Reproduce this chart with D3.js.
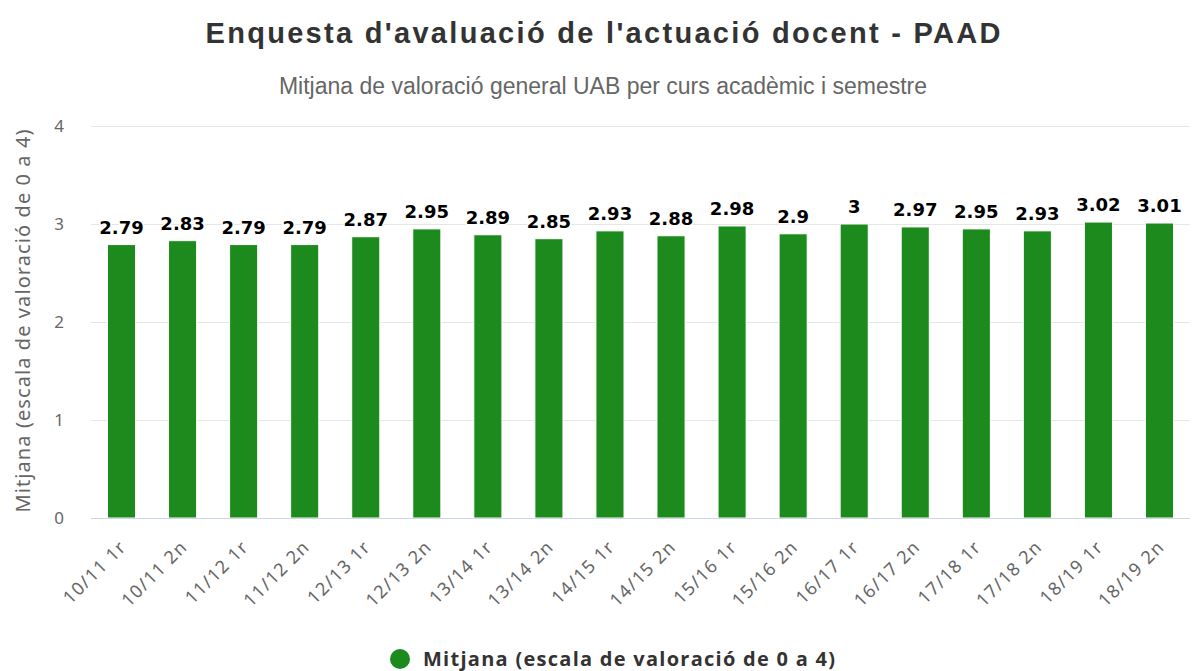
<!DOCTYPE html>
<html>
<head>
    <meta charset="utf-8">
    <title>Enquesta d'avaluació de l'actuació docent - PAAD</title>
    <script src="https://cdnjs.cloudflare.com/ajax/libs/d3/7.8.5/d3.min.js"></script>
    <style>
        body { margin: 0; background: #fff; }
        svg { display: block; }
    </style>
</head>
<body>
    <svg id="chart" width="1193" height="671"></svg>
    <script>
        // semestres i mitjanes
        var semestres = ["10/11 1r", "10/11 2n", "11/12 1r", "11/12 2n", "12/13 1r", "12/13 2n",
            "13/14 1r", "13/14 2n", "14/15 1r", "14/15 2n", "15/16 1r", "15/16 2n",
            "16/17 1r", "16/17 2n", "17/18 1r", "17/18 2n", "18/19 1r", "18/19 2n"];
        var mitjanes = [2.79, 2.83, 2.79, 2.79, 2.87, 2.95, 2.89, 2.85, 2.93, 2.88,
            2.98, 2.9, 3, 2.97, 2.95, 2.93, 3.02, 3.01];
        var yTicks = [0, 1, 2, 3, 4];
        var serieNom = "Mitjana (escala de valoració de 0 a 4)";

        var svg = d3.select("#chart");
        var plotLeft = 91, plotRight = 1190, plotTop = 126, plotBottom = 518;

        var x = d3.scaleBand().domain(semestres).range([plotLeft, plotRight]).paddingInner(0.54).paddingOuter(0.27);
        var y = d3.scaleLinear().domain([0, 4]).range([plotBottom, plotTop]);

        svg.append("text")
            .attr("x", 603).attr("y", 43)
            .attr("text-anchor", "middle")
            .attr("textLength", 795)
            .attr("lengthAdjust", "spacing")
            .style("font-family", "'Liberation Sans', sans-serif")
            .style("font-size", "29px")
            .style("font-weight", "bold")
            .style("fill", "#333")
            .text("Enquesta d'avaluació de l'actuació docent - PAAD");

        svg.append("text")
            .attr("x", 603).attr("y", 94)
            .attr("text-anchor", "middle")
            .style("font-family", "'Liberation Sans', sans-serif")
            .style("font-size", "23px")
            .style("fill", "#666")
            .text("Mitjana de valoració general UAB per curs acadèmic i semestre");

        // eix y amb graella
        var yAxis = svg.append("g")
            .attr("transform", "translate(" + plotLeft + ",0)")
            .call(d3.axisLeft(y).tickValues(yTicks).tickSize(-(plotRight - plotLeft)).tickPadding(27).tickFormat(d3.format("d")));
        yAxis.select(".domain").remove();
        yAxis.selectAll(".tick line").attr("stroke", "#e6e6e6");
        yAxis.selectAll(".tick text")
            .style("font-family", "'Noto Sans', sans-serif")
            .style("font-size", "17px")
            .style("fill", "#666");

        svg.append("text")
            .attr("transform", "translate(30," + ((plotTop + plotBottom) / 2 - 1) + ") rotate(-90)")
            .attr("text-anchor", "middle")
            .attr("textLength", 383)
            .attr("lengthAdjust", "spacing")
            .style("font-family", "'Noto Sans', sans-serif")
            .style("font-size", "20px")
            .style("fill", "#666")
            .text(serieNom);

        // barres
        svg.append("g").selectAll("rect")
            .data(mitjanes)
            .enter()
            .append("rect")
            .attr("x", function(d, i) { return x(semestres[i]); })
            .attr("y", function(d) { return y(d); })
            .attr("width", x.bandwidth())
            .attr("height", function(d) { return y(0) - y(d); })
            .style("fill", "#1c8a1c")
            .style("stroke", "#ffffff")
            .style("stroke-width", 1);

        // eix x
        svg.append("line")
            .attr("x1", plotLeft).attr("x2", plotRight)
            .attr("y1", plotBottom + 0.5).attr("y2", plotBottom + 0.5)
            .style("stroke", "#ccd6eb");

        svg.append("g").selectAll("text")
            .data(semestres)
            .enter()
            .append("text")
            .attr("transform", function(d) {
                return "translate(" + (x(d) + x.bandwidth() / 2 + 6) + ",548) rotate(-45)";
            })
            .attr("text-anchor", "end")
            .style("font-family", "'Noto Sans', sans-serif")
            .style("font-size", "18px")
            .style("letter-spacing", "1.3px")
            .style("fill", "#666")
            .text(function(d) { return d; });

        // etiquetes de valor
        svg.append("g").selectAll("text")
            .data(mitjanes)
            .enter()
            .append("text")
            .attr("x", function(d, i) { return x(semestres[i]) + x.bandwidth() / 2; })
            .attr("y", function(d) { return y(d) - 11; })
            .attr("text-anchor", "middle")
            .style("font-family", "'DejaVu Sans', sans-serif")
            .style("font-size", "18px")
            .style("font-weight", "bold")
            .style("fill", "#000")
            .style("stroke", "#fff")
            .style("stroke-width", 3)
            .style("stroke-linejoin", "round")
            .style("paint-order", "stroke")
            .text(function(d) { return d; });

        // llegenda
        var legend = svg.append("g").attr("transform", "translate(400,659)");
        legend.append("circle").attr("r", 10).style("fill", "#1c8a1c");
        legend.append("text")
            .attr("x", 23).attr("y", 7)
            .attr("textLength", 412)
            .attr("lengthAdjust", "spacing")
            .style("font-family", "'Open Sans', sans-serif")
            .style("font-size", "20px")
            .style("font-weight", "bold")
            .style("fill", "#333")
            .text(serieNom);
    </script>
</body>
</html>
